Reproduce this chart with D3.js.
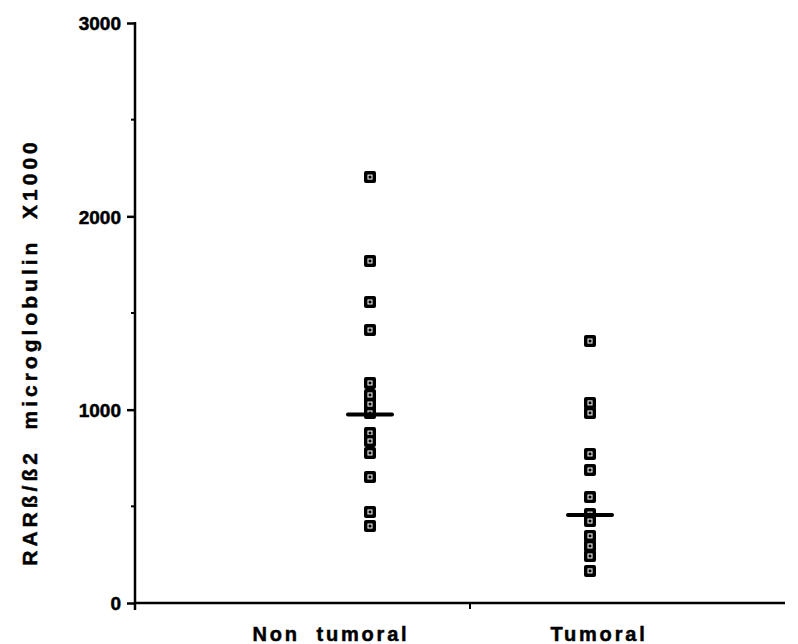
<!DOCTYPE html>
<html>
<head>
<meta charset="utf-8">
<script src="https://cdn.jsdelivr.net/npm/d3@7"></script>
<style>
  body { margin: 0; background: #fff; }
  text { font-family: "Liberation Sans", Arial, sans-serif; font-weight: bold; fill: #000; stroke: #000; stroke-width: 0.5px; }
</style>
</head>
<body>
<script>
var groups = ['Non tumoral', 'Tumoral']
var nonTumoral = [2203, 1769, 1557, 1412, 1138, 1076, 1029, 983, 879, 838, 776, 652, 471, 398]
var tumoral = [1355, 1035, 983, 771, 688, 548, 460, 424, 347, 295, 243, 166]
var medians = [975, 455]
var yTicks = [0, 1000, 2000, 3000]
var yMinorTicks = [500, 1500, 2500]

var width = 798, height = 644
var svg = d3.select('body')
            .append('svg')
            .attr('width', width)
            .attr('height', height)

var y = d3.scaleLinear().domain([0, 3000]).range([603, 23])
var x = d3.scalePoint().domain(groups).range([370, 590])
var axisX = 135

// y axis
var yAxis = d3.axisLeft(y)
              .tickValues(yTicks)
              .tickSize(8)
              .tickPadding(6)
              .tickFormat(d3.format('d'))
var gy = svg.append('g')
            .attr('transform', 'translate(' + axisX + ',0)')
            .call(yAxis)
            .attr('font-size', 19)
            .attr('font-family', null)
gy.select('.domain').remove()
gy.selectAll('line').attr('stroke', '#000').attr('stroke-width', 2.5)
gy.selectAll('text')
  .attr('fill', '#000')
  .attr('dy', '0.36em')

svg.append('g').selectAll('line')
   .data(yMinorTicks)
   .enter()
   .append('line')
   .attr('x1', axisX - 4)
   .attr('x2', axisX)
   .attr('y1', function(d){ return y(d) })
   .attr('y2', function(d){ return y(d) })
   .attr('stroke', '#000')
   .attr('stroke-width', 2)

svg.append('line')
   .attr('x1', axisX).attr('x2', axisX)
   .attr('y1', y(3000) - 1).attr('y2', y(0) + 7)
   .attr('stroke', '#000').attr('stroke-width', 2.5)

// x axis
svg.append('line')
   .attr('x1', axisX).attr('x2', 785)
   .attr('y1', y(0)).attr('y2', y(0))
   .attr('stroke', '#000').attr('stroke-width', 2.5)
svg.append('line')
   .attr('x1', 470).attr('x2', 470)
   .attr('y1', y(0)).attr('y2', y(0) + 6)
   .attr('stroke', '#000').attr('stroke-width', 2)

var labelShift = [-39, 9]
svg.selectAll('.xlab')
   .data(groups)
   .enter()
   .append('text')
   .attr('class', 'xlab')
   .attr('x', function(d, i){ return x(d) + labelShift[i] })
   .attr('y', 641)
   .attr('text-anchor', 'middle')
   .style('font-size', '20px')
   .style('letter-spacing', '2.8px')
   .style('white-space', 'pre')
   .text(function(d){ return d.replace(' ', '  ') })

svg.append('text')
   .attr('transform', 'translate(37,352) rotate(-90)')
   .attr('text-anchor', 'middle')
   .style('font-size', '21px')
   .style('letter-spacing', '4px')
   .style('white-space', 'pre')
   .text('RARß/ß2  microglobulin  X1000')

// points
var points = []
nonTumoral.forEach(function(v){ points.push({g: groups[0], v: v}) })
tumoral.forEach(function(v){ points.push({g: groups[1], v: v}) })

var pts = svg.append('g').selectAll('g')
             .data(points)
             .enter()
             .append('g')
             .attr('transform', function(d){ return 'translate(' + x(d.g) + ',' + y(d.v) + ')' })
pts.append('rect')
   .attr('x', -6).attr('y', -6)
   .attr('width', 12).attr('height', 12)
   .attr('rx', 2)
   .attr('fill', '#000')
pts.append('rect')
   .attr('x', -2).attr('y', -2)
   .attr('width', 4).attr('height', 4)
   .attr('fill', 'none')
   .attr('stroke', '#fff')
   .attr('stroke-width', 1)

// medians
svg.append('g').selectAll('line')
   .data(medians)
   .enter()
   .append('line')
   .attr('x1', function(d, i){ return x(groups[i]) - 22 })
   .attr('x2', function(d, i){ return x(groups[i]) + 22 })
   .attr('y1', function(d){ return y(d) })
   .attr('y2', function(d){ return y(d) })
   .attr('stroke', '#000')
   .attr('stroke-width', 4)
   .attr('stroke-linecap', 'round')
</script>
</body>
</html>
